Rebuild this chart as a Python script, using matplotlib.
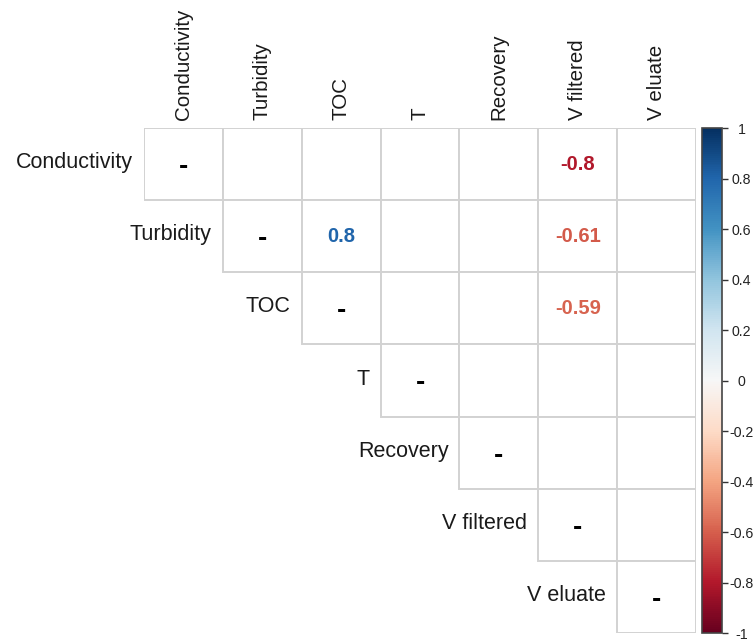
import matplotlib
matplotlib.use('Agg')
import matplotlib.pyplot as plt
from matplotlib.patches import Rectangle
from matplotlib.colors import Normalize
import matplotlib.cm as cm

plt.rcParams['font.family'] = ['Liberation Sans', 'DejaVu Sans']

# data
variables = ['Conductivity', 'Turbidity', 'TOC', 'T', 'Recovery', 'V filtered', 'V eluate']
sig_rows = [0, 1, 1, 2]
sig_cols = [5, 2, 5, 5]
sig_vals = [-0.8, 0.8, -0.61, -0.59]
cbar_ticks = [-1, -0.8, -0.6, -0.4, -0.2, 0, 0.2, 0.4, 0.6, 0.8, 1]

W, H = 755, 643
fig = plt.figure(figsize=(W / 100, H / 100), dpi=100)
fig.patch.set_facecolor('white')

n = len(variables)
ax = fig.add_axes([144 / W, 1 - 633 / H, (696 - 144) / W, (633 - 128) / H])
ax.set_xlim(0, n)
ax.set_ylim(n, 0)
ax.axis('off')

cmap = plt.get_cmap('RdBu')
norm = Normalize(-1, 1)
GRID = '#d2d2d2'
TXT = '#1a1a1a'

# cells of the upper triangle
for i in range(n):
    for j in range(i, n):
        ax.add_patch(Rectangle((j, i), 1, 1, facecolor='white', edgecolor=GRID,
                               linewidth=1.4, zorder=1))
    ax.text(i + 0.5, i + 0.54, '-', ha='center', va='center', fontsize=20,
            fontweight='bold', color='black', zorder=3)
    # row labels
    ax.text(i - 0.14, i + 0.48, variables[i], ha='right', va='center', fontsize=15.5,
            color=TXT, zorder=3)
    # column labels
    ax.text(i + 0.5, -0.11, variables[i], ha='center', va='bottom', rotation=90,
            fontsize=14.8, color=TXT, zorder=3)

for r, c, v in zip(sig_rows, sig_cols, sig_vals):
    ax.text(c + 0.5, r + 0.5, f'{v:g}', ha='center', va='center', fontsize=14.5,
            fontweight='bold', color=cmap(norm(v)), zorder=3)

# colorbar
cax = fig.add_axes([702 / W, 1 - 633 / H, 20 / W, (633 - 128) / H])
cb = fig.colorbar(cm.ScalarMappable(norm=norm, cmap=cmap), cax=cax)
cb.set_ticks(cbar_ticks)
cb.set_ticklabels([])
cb.outline.set_edgecolor('#444444')
cb.outline.set_linewidth(1.2)
cax.tick_params(colors='#333333', length=4, width=1.0)
pos = cax.get_position()
for t in cbar_ticks:
    fig.text(741.5 / W, pos.y0 + norm(t) * pos.height - 2 / H, f'{t:g}',
             ha='center', va='center', fontsize=10.2, color='#222222')

fig.savefig('out.png', dpi=100, facecolor='white')
